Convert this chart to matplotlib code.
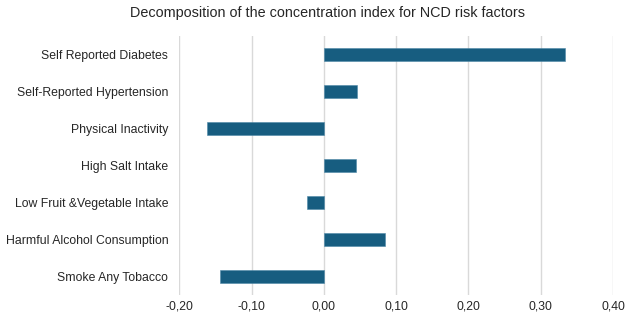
import matplotlib
matplotlib.use('Agg')
import matplotlib.pyplot as plt
from matplotlib.ticker import FuncFormatter

plt.rcParams['font.family'] = ['Liberation Sans', 'DejaVu Sans']

factors = ['Self Reported Diabetes', 'Self-Reported Hypertension', 'Physical Inactivity',
           'High Salt Intake', 'Low Fruit &Vegetable Intake', 'Harmful Alcohol Consumption',
           'Smoke Any Tobacco']
contrib = [0.334, 0.046, -0.161, 0.044, -0.0235, 0.085, -0.143]
xticks = [-0.2, -0.1, 0.0, 0.1, 0.2, 0.3, 0.4]

fig = plt.figure(figsize=(6.3, 3.2), dpi=100)
ax = fig.add_axes([0.2846, 0.077, 0.6884, 0.812])

ys = list(range(len(factors)))
ax.barh(ys, contrib, height=0.35, color='#175d80', edgecolor='#4d88a6', linewidth=0.4, zorder=3)
ax.set_yticks(ys)
ax.set_yticklabels(factors)
ax.set_ylim(len(factors) - 0.5, -0.5)

ax.set_xlim(-0.2, 0.4)
ax.set_xticks(xticks)
ax.xaxis.set_major_formatter(FuncFormatter(lambda v, p: f"{v:.2f}".replace('.', ',')))
ax.grid(axis='x', color='#d9d9d9', linewidth=1, zorder=0)

for s in ax.spines.values():
    s.set_visible(False)
ax.tick_params(length=0, labelsize=8.8, colors='#262626')
ax.tick_params(axis='y', pad=8)
ax.tick_params(axis='x', pad=4)

fig.suptitle('Decomposition of the concentration index for NCD risk factors',
             x=0.52, y=0.98, fontsize=10.4, color='#262626')

fig.savefig('out.png', dpi=100)
